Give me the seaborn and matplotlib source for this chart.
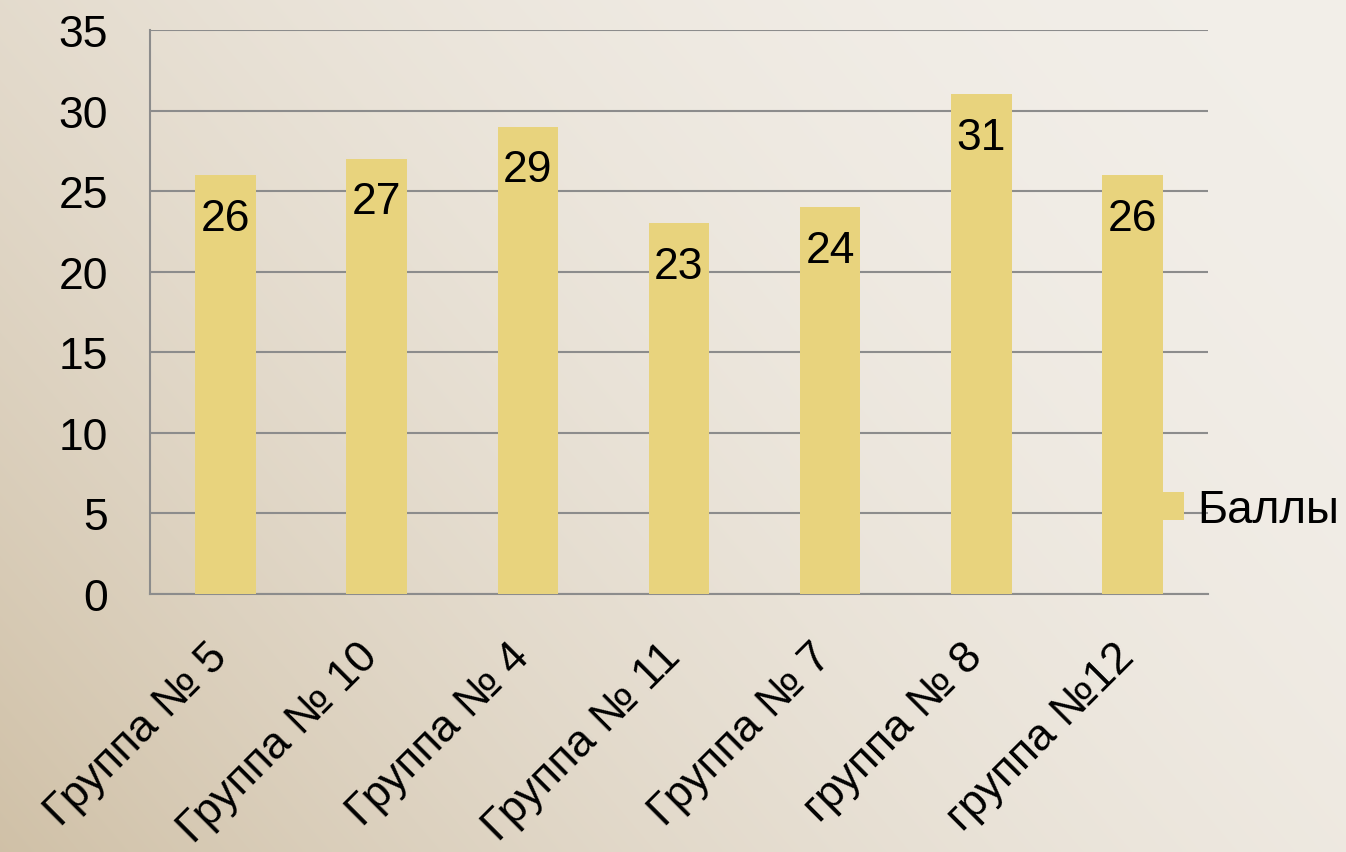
import numpy as np
import seaborn as sns
import matplotlib.pyplot as plt
from matplotlib.patches import Patch
from matplotlib.transforms import ScaledTranslation

# chart data
groups = ["Группа № 5", "Группа № 10", "Группа № 4", "Группа № 11",
          "Группа № 7", "группа № 8", "группа №12"]
scores = [26, 27, 29, 23, 24, 31, 26]
series_name = "Баллы"
y_ticks = [0, 5, 10, 15, 20, 25, 30, 35]

bar_color = "#E8D37D"
grid_color = "#8C8C8C"
fs = 32

sns.set_theme(style="white")
plt.rcParams["font.family"] = ["Liberation Sans", "DejaVu Sans"]
plt.rcParams["text.color"] = "black"

W, H = 1346, 853
fig = plt.figure(figsize=(W / 100, H / 100), dpi=100)

# parchment-like background, darker towards the lower left
yy, xx = np.mgrid[0:H, 0:W]
t = ((W - xx) / W) * 0.65 + (yy / H) * 0.35
t = np.clip(t, 0, 1) ** 2
light = np.array([0.950, 0.935, 0.912])
dark = np.array([0.815, 0.755, 0.655])
bg = light[None, None, :] * (1 - t[..., None]) + dark[None, None, :] * t[..., None]
fig.figimage(bg, xo=0, yo=0, origin="upper", zorder=-10)

ax = fig.add_axes([150 / W, 1 - 595 / H, (1208 - 150) / W, (595 - 31) / H])
ax.set_facecolor("none")

sns.barplot(x=groups, y=scores, color=bar_color, width=0.4, saturation=1,
            edgecolor="none", linewidth=0, ax=ax, zorder=3)

ax.set_ylim(0, 35)
ax.set_xlim(-0.5, len(groups) - 0.5)
ax.set_yticks(y_ticks)
ax.yaxis.grid(True, color=grid_color, linewidth=1.5, zorder=0)
ax.set_axisbelow(True)
for s in ["top", "right"]:
    ax.spines[s].set_visible(False)
for s in ["left", "bottom"]:
    ax.spines[s].set_color(grid_color)
    ax.spines[s].set_linewidth(1.5)

ax.tick_params(axis="y", length=11, width=1.5, color=grid_color, direction="out",
               labelsize=fs, pad=19, labelcolor="black")
ax.set_xticks(np.arange(-0.5, len(groups)), minor=True)
ax.tick_params(axis="x", which="minor", length=11, width=1.5, color=grid_color,
               direction="out")
ax.tick_params(axis="x", which="major", length=0, labelsize=fs, pad=0,
               labelcolor="black")
ax.set_xlabel("")
ax.set_ylabel("")

for lab in ax.get_xticklabels():
    lab.set_rotation(45)
    lab.set_ha("right")
    lab.set_va("center")
    lab.set_rotation_mode("anchor")
    lab.set_transform(lab.get_transform() +
                      ScaledTranslation(-0.05, -0.56, fig.dpi_scale_trans))

for i, v in enumerate(scores):
    ax.annotate(str(v), xy=(i, v), xytext=(0, -31), textcoords="offset points",
                ha="center", va="center", fontsize=fs, color="black", zorder=5)

handle = Patch(facecolor=bar_color, edgecolor="none")
fig.legend([handle], [series_name], loc="center left",
           bbox_to_anchor=(1163 / W, 1 - 511 / H), frameon=False,
           fontsize=fs + 1, handlelength=0.46, handleheight=0.55,
           handletextpad=0.28, borderpad=0, borderaxespad=0)

fig.savefig("out.png", dpi=100)
